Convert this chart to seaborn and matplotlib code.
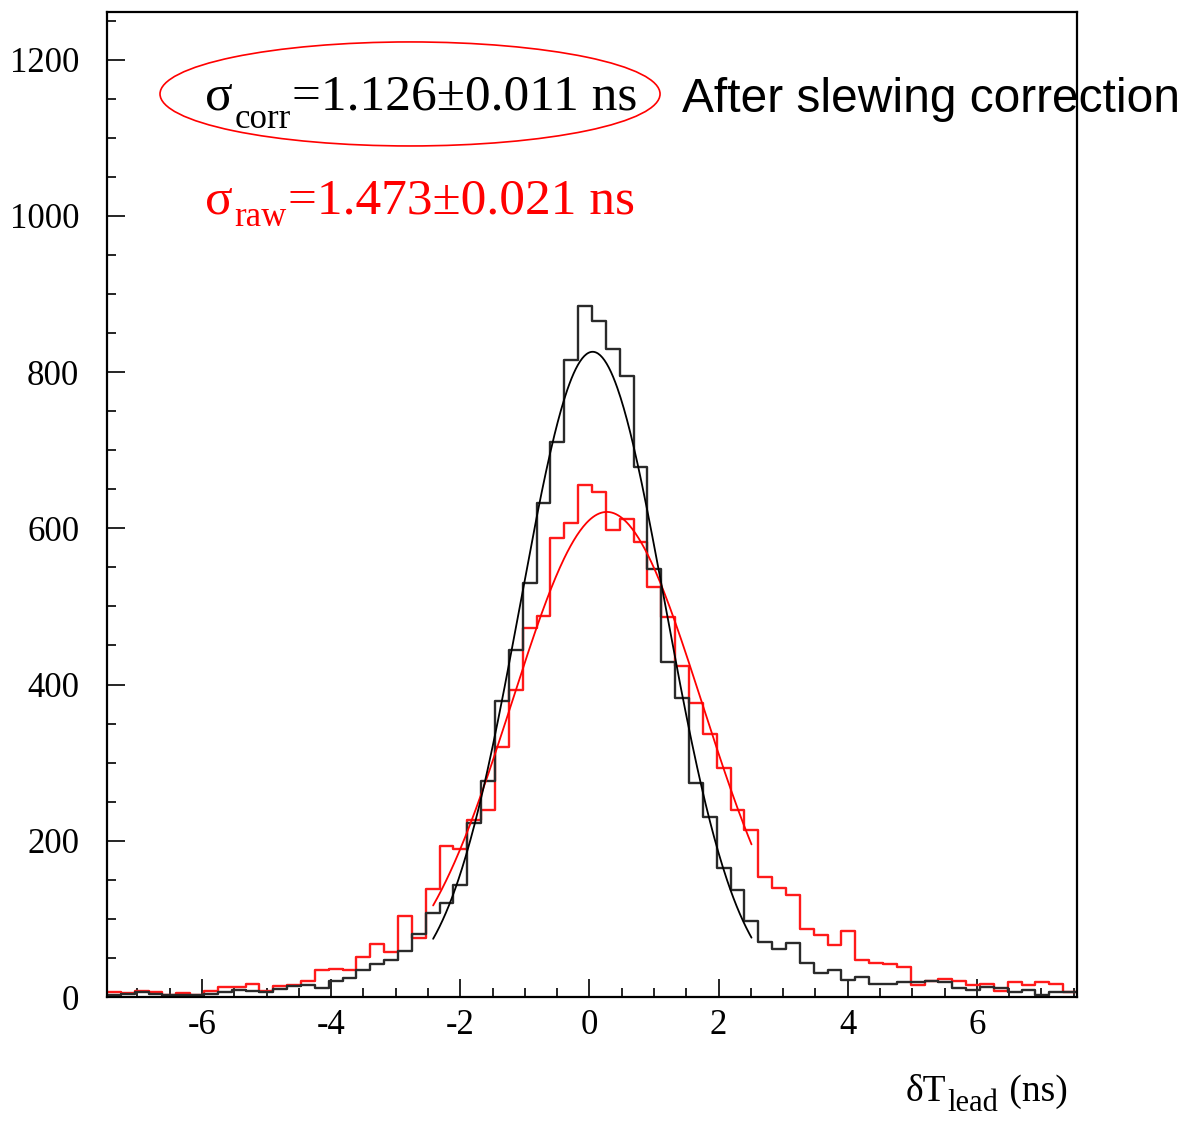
import numpy as np
import pandas as pd
import seaborn as sns
import matplotlib.pyplot as plt
from matplotlib.patches import Ellipse
from matplotlib.ticker import MultipleLocator

# ---------------- data ----------------
bin_lo, bin_hi, n_bins = -7.47, 7.55, 70

corr_counts = [3, 4, 6, 4, 3, 3, 2, 4, 7, 9,
               8, 7, 10, 14, 16, 12, 21, 24, 35, 42,
               48, 59, 81, 107, 120, 143, 223, 276, 379, 444,
               530, 632, 711, 815, 884, 865, 830, 795, 678, 548,
               429, 383, 274, 231, 165, 137, 97, 71, 62, 69,
               44, 31, 34, 22, 26, 17, 17, 19, 19, 21,
               19, 12, 9, 13, 12, 7, 9, 3, 6, 6]

raw_counts = [6, 5, 8, 7, 3, 5, 3, 8, 13, 13,
              17, 8, 14, 15, 21, 35, 36, 35, 51, 68,
              58, 104, 75, 138, 193, 190, 226, 239, 320, 393,
              472, 488, 587, 607, 656, 647, 598, 612, 582, 525,
              486, 424, 377, 337, 293, 239, 214, 153, 140, 130,
              87, 80, 66, 84, 48, 44, 42, 38, 15, 20,
              23, 21, 15, 17, 8, 19, 15, 19, 17, 6]

# Gaussian fit parameters (amplitude, mean, sigma) and fit range
corr_fit = (826.0, 0.05, 1.126)
raw_fit = (621.0, 0.27, 1.473)
fit_range = (-2.42, 2.51)

# text pieces: (main, subscript, rest)
corr_label = ("σ", "corr", "=1.126±0.011 ns")
raw_label = ("σ", "raw", "=1.473±0.021 ns")
x_label = ("δT", "lead", " (ns)")
note_label = "After slewing correction"

x_ticks = [-6, -4, -2, 0, 2, 4, 6]
y_ticks = [0, 200, 400, 600, 800, 1000, 1200]
y_max = 1261

# ---------------- style ----------------
sns.set_theme(style="white")
plt.rcParams['font.family'] = ['Liberation Serif', 'DejaVu Serif']
plt.rcParams['axes.unicode_minus'] = False
plt.rcParams['text.color'] = 'black'
plt.rcParams['xtick.color'] = 'black'
plt.rcParams['ytick.color'] = 'black'

W, H = 1186, 1130
fig = plt.figure(figsize=(W / 100, H / 100), dpi=100)
ax = fig.add_axes([107/W, 1-997/H, 970/W, 985/H])

edges = [float(e) for e in np.linspace(bin_lo, bin_hi, n_bins + 1)]
centers = [0.5 * (edges[i] + edges[i + 1]) for i in range(n_bins)]
df_corr = pd.DataFrame({"dt": centers, "count": corr_counts})
df_raw = pd.DataFrame({"dt": centers, "count": raw_counts})

sns.histplot(data=df_raw, x="dt", weights="count", bins=edges,
             element="step", fill=False, color="#ff1a1a", linewidth=1.7, ax=ax)
sns.histplot(data=df_corr, x="dt", weights="count", bins=edges,
             element="step", fill=False, color="#2a2a2a", linewidth=1.7, ax=ax)

xf = np.linspace(fit_range[0], fit_range[1], 300)
def gauss(x, p):
    a, m, s = p
    return a * np.exp(-0.5 * ((x - m) / s) ** 2)

sns.lineplot(x=xf, y=gauss(xf, raw_fit), color="red", linewidth=1.3, ax=ax)
sns.lineplot(x=xf, y=gauss(xf, corr_fit), color="black", linewidth=1.3, ax=ax)

ax.set_xlim(bin_lo, bin_hi)
ax.set_ylim(0, y_max)
ax.set_xticks(x_ticks)
ax.set_yticks(y_ticks)
ax.xaxis.set_minor_locator(MultipleLocator(0.5))
ax.yaxis.set_minor_locator(MultipleLocator(50))
ax.set_xlabel("")
ax.set_ylabel("")
ax.tick_params(axis='both', which='major', direction='in', length=13, width=1.2,
               color='black', labelcolor='black', labelsize=25, top=False, right=False)
ax.tick_params(axis='both', which='minor', direction='in', length=6.5, width=1.2,
               color='black', top=False, right=False)
ax.tick_params(axis='y', which='major', pad=20, left=True)
ax.tick_params(axis='y', which='minor', left=True)
ax.tick_params(axis='x', which='major', pad=9, bottom=True)
ax.tick_params(axis='x', which='minor', bottom=True)
for sp in ax.spines.values():
    sp.set_color('black')
    sp.set_linewidth(1.6)
    sp.set_zorder(5)

renderer = fig.canvas.get_renderer()

def chain_text(x0, base_y, parts, sizes, drop, color, align='left'):
    """Draw main + subscript + rest; x0/base_y in pixels from top-left."""
    ys = [base_y, base_y + drop, base_y]
    texts = []
    for s, fs, yy in zip(parts, sizes, ys):
        t = fig.text(0, 1 - yy / H, s, fontsize=fs, color=color,
                     ha='left', va='baseline')
        texts.append(t)
    widths = [t.get_window_extent(renderer).width for t in texts]
    gap = 1.5
    total = sum(widths) + gap * 2
    x = x0 if align == 'left' else x0 - total
    for t, w, yy in zip(texts, widths, ys):
        t.set_position((x / W, 1 - yy / H))
        x += w + gap

chain_text(205, 110, corr_label, (37, 25, 37), 18, 'black')
chain_text(205, 213, raw_label, (37, 25, 37), 13, 'red')
chain_text(1068, 1101, x_label, (27, 22, 27), 10, 'black', align='right')

ax.add_patch(Ellipse((0.3124, 0.9168), 0.5155, 0.1056, transform=ax.transAxes,
                     fill=False, edgecolor='red', linewidth=1.2, clip_on=False))
ax.text((682 - 107) / 970, (997 - 112) / 985, note_label, transform=ax.transAxes,
        fontsize=34.5, color='black', ha='left', va='baseline',
        family='Liberation Sans', clip_on=False, zorder=1)

fig.savefig("out.png", dpi=100)
